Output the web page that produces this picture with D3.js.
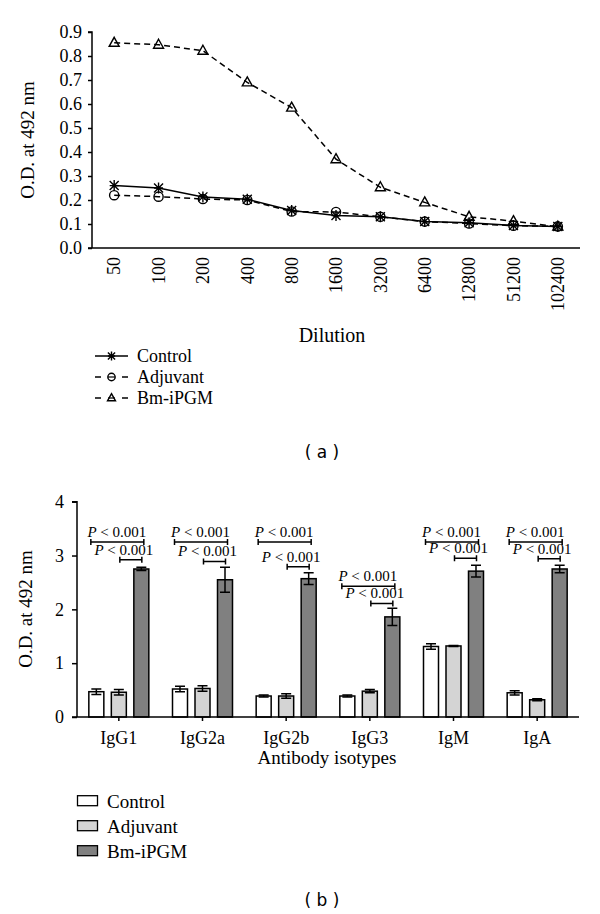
<!DOCTYPE html>
<html><head><meta charset="utf-8">
<script src="https://cdn.jsdelivr.net/npm/d3@7"></script>
<style>body{margin:0;background:#fff}</style>
</head><body>
<svg id="c" width="600" height="914" xmlns="http://www.w3.org/2000/svg"></svg>
<script>
// ---------- data: panel (a) ----------
const dilutions = ["50","100","200","400","800","1600","3200","6400","12800","51200","102400"];
const controlOD  = [0.26,0.25,0.213,0.203,0.156,0.135,0.13,0.11,0.105,0.094,0.09];
const adjuvantOD = [0.22,0.214,0.204,0.2,0.152,0.15,0.13,0.11,0.102,0.093,0.09];
const bmOD       = [0.855,0.847,0.822,0.69,0.585,0.37,0.253,0.19,0.13,0.112,0.089];
const yTicksA = [0,0.1,0.2,0.3,0.4,0.5,0.6,0.7,0.8,0.9];
const seriesNames = ["Control","Adjuvant","Bm-iPGM"];

// ---------- data: panel (b) ----------
const isotypes = ["IgG1","IgG2a","IgG2b","IgG3","IgM","IgA"];
const controlMean  = [0.47,0.52,0.39,0.39,1.31,0.45];
const controlErr   = [0.05,0.05,0.02,0.02,0.05,0.04];
const adjuvantMean = [0.46,0.53,0.39,0.48,1.32,0.32];
const adjuvantErr  = [0.05,0.05,0.04,0.03,0.01,0.02];
const bmMean = [2.75,2.55,2.57,1.86,2.71,2.75];
const bmErr  = [0.03,0.23,0.11,0.16,0.11,0.07];
const pOuterLevel = [3.25,3.25,3.25,2.43,3.25,3.25];
const pInnerLevel = [2.92,2.89,2.79,2.11,2.95,2.94];
const yTicksB = [0,1,2,3,4];

const svg = d3.select("#c");
const SERIF = "Liberation Serif";
const SANS = "DejaVu Sans";

// ================= PANEL A =================
const xA = d3.scaleBand().domain(dilutions).range([92, 580]);
const yA = d3.scaleLinear().domain([0, 0.9]).range([248, 32]);
const gA = svg.append("g");

const yAxisA = d3.axisLeft(yA).tickValues(yTicksA).tickFormat(d3.format(".1f")).tickSize(4).tickPadding(6);
const axA = gA.append("g").attr("transform","translate(92,0)").call(yAxisA);
axA.attr("font-family", SERIF).attr("font-size", 18);
axA.select(".domain").attr("d", `M-4,${yA(0.9)}H0V${yA(0)}`);
axA.selectAll(".tick text").style("font-family", SERIF).attr("fill","#000");
axA.selectAll(".domain, .tick line").attr("stroke","#000").attr("stroke-width",1.5);
gA.append("line").attr("x1",88).attr("x2",580).attr("y1",yA(0)).attr("y2",yA(0)).attr("stroke","#000").attr("stroke-width",1.5);

gA.selectAll(".xl").data(dilutions).enter().append("text")
  .attr("transform", d => `translate(${xA(d)+xA.bandwidth()/2},257) rotate(-90)`)
  .attr("text-anchor","end").attr("dy","0.35em")
  .style("font-family",SERIF).attr("font-size",18).text(d => d);

gA.append("text").attr("transform","translate(34,140) rotate(-90)").attr("text-anchor","middle")
  .style("font-family",SERIF).attr("font-size",19).text("O.D. at 492 nm");
gA.append("text").attr("x",332).attr("y",342).attr("text-anchor","middle")
  .style("font-family",SERIF).attr("font-size",20).text("Dilution");

const cx = d => xA(d) + xA.bandwidth()/2;
const line = vals => d3.line().x((v,i) => cx(dilutions[i])).y(v => yA(v))(vals);
const seriesA = [
  {name: seriesNames[0], vals: controlOD, dash: null, marker: "star"},
  {name: seriesNames[1], vals: adjuvantOD, dash: "6,4", marker: "circle"},
  {name: seriesNames[2], vals: bmOD, dash: "6,4", marker: "tri"}
];
function marker(g, type, x, y, s) {
  const k = s || 1;
  if (type === "circle") {
    g.append("circle").attr("cx",x).attr("cy",y).attr("r",4.6*k).attr("fill","none").attr("stroke","#000").attr("stroke-width",1.4);
  } else if (type === "tri") {
    g.append("path").attr("d",`M${x},${y-5.5*k}L${x+5*k},${y+3.5*k}L${x-5*k},${y+3.5*k}Z`)
      .attr("fill","none").attr("stroke","#000").attr("stroke-width",1.4);
  } else {
    const r = 4.5*k;
    g.append("path").attr("d",`M${x-r},${y-r}L${x+r},${y+r}M${x-r},${y+r}L${x+r},${y-r}M${x},${y-r-1}V${y+r+1}M${x-r},${y}H${x+r}`)
      .attr("stroke","#000").attr("stroke-width",1.4).attr("fill","none");
  }
}
seriesA.forEach(s => {
  gA.append("path").attr("d", line(s.vals)).attr("fill","none").attr("stroke","#000")
    .attr("stroke-width",1.5).attr("stroke-dasharray", s.dash);
});
seriesA.slice().reverse().forEach(s => {
  s.vals.forEach((v,i) => marker(gA, s.marker, cx(dilutions[i]), yA(v)));
});

// legend A
seriesA.forEach((s,i) => {
  const y = 356 + i*21;
  const lg = gA.append("g");
  if (s.dash) {
    lg.append("line").attr("x1",95).attr("x2",101).attr("y1",y).attr("y2",y).attr("stroke","#000").attr("stroke-width",1.5);
    lg.append("line").attr("x1",122).attr("x2",128).attr("y1",y).attr("y2",y).attr("stroke","#000").attr("stroke-width",1.5);
    lg.append("line").attr("x1",108).attr("x2",115).attr("y1",y).attr("y2",y).attr("stroke","#000").attr("stroke-width",1.2);
  } else {
    lg.append("line").attr("x1",95).attr("x2",128).attr("y1",y).attr("y2",y).attr("stroke","#000").attr("stroke-width",1.5);
  }
  marker(lg, s.marker, 111.5, y, 0.8);
  lg.append("text").attr("x",137).attr("y",y+6).style("font-family",SERIF).attr("font-size",18).text(s.name);
});
svg.append("text").attr("x",322).attr("y",458).attr("text-anchor","middle").style("font-family",SANS)
  .attr("font-size",17).attr("xml:space","preserve").text("( a )");

// ================= PANEL B =================
const xB = d3.scaleBand().domain(isotypes).range([77, 579]);
const yB = d3.scaleLinear().domain([0, 4]).range([717, 501.7]);
const gB = svg.append("g");
const yAxisB = d3.axisLeft(yB).tickValues(yTicksB).tickFormat(d3.format("d")).tickSize(5).tickPadding(8);
const axB = gB.append("g").attr("transform","translate(77,0)").call(yAxisB);
axB.attr("font-family", SERIF).attr("font-size", 18);
axB.select(".domain").attr("d", `M-5,${yB(4)}H0V${yB(0)}`);
axB.selectAll(".tick text").style("font-family",SERIF).attr("fill","#000");
axB.selectAll(".domain, .tick line").attr("stroke","#000").attr("stroke-width",1.5);

const gc = d => xB(d) + xB.bandwidth()/2;
const groups = [
  {name: seriesNames[0], mean: controlMean, err: controlErr, fill: "#ffffff", off: -22.5},
  {name: seriesNames[1], mean: adjuvantMean, err: adjuvantErr, fill: "#d4d4d4", off: 0},
  {name: seriesNames[2], mean: bmMean, err: bmErr, fill: "#808080", off: 22.5}
];
const bw = 15;
groups.forEach(s => {
  isotypes.forEach((iso,i) => {
    const x = gc(iso) + s.off;
    gB.append("rect").attr("x", x - bw/2).attr("y", yB(s.mean[i])).attr("width", bw)
      .attr("height", yB(0) - yB(s.mean[i])).attr("fill", s.fill).attr("stroke","#000").attr("stroke-width",1.5);
    const lo = yB(s.mean[i] - s.err[i]), hi = yB(s.mean[i] + s.err[i]);
    gB.append("path").attr("d", `M${x},${lo}V${hi}M${x-5},${hi}H${x+5}M${x-5},${lo}H${x+5}`)
      .attr("stroke","#000").attr("stroke-width",1.5).attr("fill","none");
  });
});
gB.append("line").attr("x1",72).attr("x2",579).attr("y1",yB(0)).attr("y2",yB(0)).attr("stroke","#000").attr("stroke-width",1.5);
isotypes.forEach(iso => {
  gB.append("line").attr("x1",gc(iso)).attr("x2",gc(iso)).attr("y1",yB(0)).attr("y2",yB(0)+4).attr("stroke","#000").attr("stroke-width",1.5);
  gB.append("text").attr("x",gc(iso)).attr("y",744).attr("text-anchor","middle").style("font-family",SERIF).attr("font-size",18).text(iso);
});
gB.append("text").attr("x",327).attr("y",764).attr("text-anchor","middle").style("font-family",SERIF).attr("font-size",19).text("Antibody isotypes");
gB.append("text").attr("transform","translate(32,609) rotate(-90)").attr("text-anchor","middle")
  .style("font-family",SERIF).attr("font-size",19).text("O.D. at 492 nm");

function bracket(x1, x2, v, labelX) {
  const y = yB(v);
  gB.append("path").attr("d", `M${x1},${y}H${x2}M${x1},${y-3}V${y+3}M${x2},${y-3}V${y+3}`)
    .attr("stroke","#000").attr("stroke-width",1.5).attr("fill","none");
  const t = gB.append("text").attr("x",labelX).attr("y",y-5).attr("text-anchor","middle")
    .style("font-family",SERIF).attr("font-size",15);
  t.append("tspan").attr("font-style","italic").text("P");
  t.append("tspan").text(" < 0.001");
}
isotypes.forEach((iso,i) => {
  const c = gc(iso);
  bracket(c - 28, c + 25, pOuterLevel[i], c - 2);
  bracket(c + 1, c + 23, pInnerLevel[i], c + 5);
});

groups.forEach((s,i) => {
  const y = 800.7 + i*25;
  gB.append("rect").attr("x",77.5).attr("y",y-5).attr("width",20).attr("height",10)
    .attr("fill",s.fill).attr("stroke","#000").attr("stroke-width",1.3);
  gB.append("text").attr("x",107).attr("y",y+7).style("font-family",SERIF).attr("font-size",19).text(s.name);
});
svg.append("text").attr("x",322).attr("y",906).attr("text-anchor","middle").style("font-family",SANS)
  .attr("font-size",17).attr("xml:space","preserve").text("( b )");
</script>
</body></html>
